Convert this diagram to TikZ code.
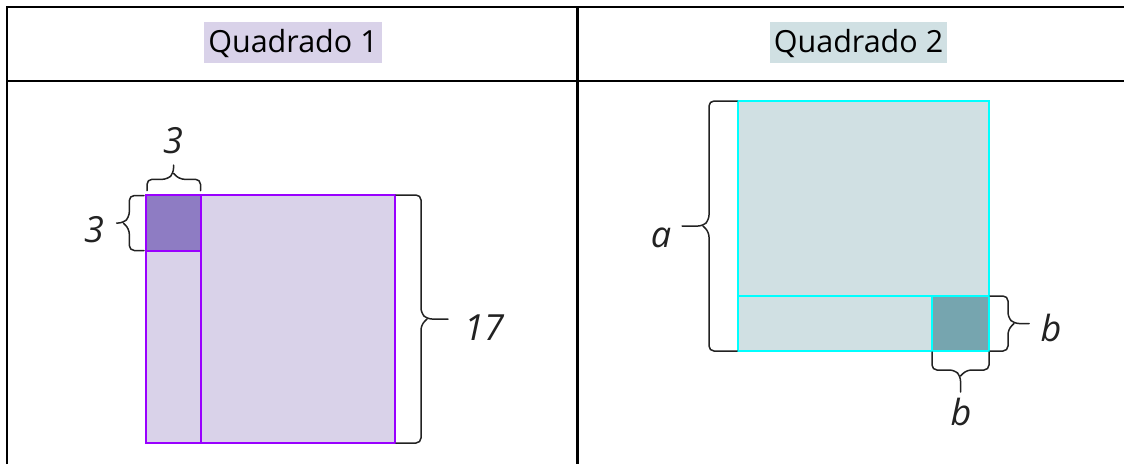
\documentclass[tikz,border=0pt]{standalone}
\usepackage{fontspec}
\setmainfont{Open Sans}
\definecolor{lpurple}{HTML}{D9D2E9}
\definecolor{dpurple}{HTML}{8E7CC3}
\definecolor{opurple}{HTML}{9900FF}
\definecolor{lcyan}{HTML}{D0E0E3}
\definecolor{dcyan}{HTML}{76A5AF}
\definecolor{ocyan}{HTML}{00FFFF}
\definecolor{ink}{HTML}{222222}
\begin{document}
\begin{tikzpicture}[x=1pt,y=-1pt,
  tabline/.style={line width=2.5pt,black},
  brc/.style={line width=1.5pt,ink,rounded corners=5pt,line cap=round},
  head/.style={inner xsep=4pt,inner ysep=0pt,text height=30pt,text depth=10.4pt,anchor=base,font=\fontsize{30.5}{36}\selectfont},
  lab/.style={inner sep=0pt,anchor=base,text=ink,font=\fontsize{36}{40}\selectfont\itshape},
  pq/.style={draw=opurple,line width=1.5pt},
  cq/.style={draw=ocyan,line width=1.5pt}]
\useasboundingbox (0,0) rectangle (1124,464);
% table
\draw[tabline] (7,464) -- (7,7) -- (1124,7);
\draw[tabline] (7,81) -- (1124,81);
\draw[tabline] (577.5,7) -- (577.5,464);
% headers
\node[head,fill=lpurple] (h1) at (293,52.3) {Quadrado 1};
\node[head,fill=lcyan] (h2) at (858.5,52.3) {Quadrado 2};
% Quadrado 1
\fill[lpurple] (146,195) rectangle (395,443);
\fill[dpurple] (146,195) rectangle (201,251);
\draw[pq] (146,195) rectangle (395,443);
\draw[pq] (201,195) -- (201,443);
\draw[pq] (146,251) -- (201,251);
% top brace 3
\draw[brc] (147,190.5) -- (147,179.3) -- (167.5,179.3) -- (173.5,173.3) -- (173.5,165);
\draw[brc] (200.5,190.5) -- (200.5,179.3) -- (179.5,179.3) -- (173.5,173.3);
\node[lab] (l3a) at (173,153) {3};
% left brace 3
\draw[brc] (144,195.5) -- (129.3,195.5) -- (129.3,217) -- (123.3,223) -- (116.7,223);
\draw[brc] (144,250.5) -- (129.3,250.5) -- (129.3,229) -- (123.3,223);
\node[lab] (l3b) at (94,242) {3};
% right brace 17
\draw[brc] (396,195) -- (421,195) -- (421,313) -- (427,319) -- (448,319);
\draw[brc] (396,443) -- (421,443) -- (421,325) -- (427,319);
\node[lab] (l17) at (484,340) {17};
% Quadrado 2
\fill[lcyan] (738,101) rectangle (989,351);
\fill[dcyan] (932,296) rectangle (989,351);
\draw[cq] (738,101) rectangle (989,351);
\draw[cq] (738,296) -- (989,296);
\draw[cq] (932,296) -- (932,351);
% left brace a
\draw[brc] (737,101) -- (709,101) -- (709,220) -- (703,226) -- (682,226);
\draw[brc] (737,351) -- (709,351) -- (709,232) -- (703,226);
\node[lab] (la) at (661,247) {a};
% right brace b
\draw[brc] (990,296) -- (1008,296) -- (1008,317.5) -- (1014,323.5) -- (1029,323.5);
\draw[brc] (990,351) -- (1008,351) -- (1008,329.5) -- (1014,323.5);
\node[lab] (lb1) at (1051,341) {b};
% bottom brace b
\draw[brc] (932,352) -- (932,370) -- (954.5,370) -- (960.5,376) -- (960.5,392);
\draw[brc] (989,352) -- (989,370) -- (966.5,370) -- (960.5,376);
\node[lab] (lb2) at (961,425) {b};
\end{tikzpicture}
\end{document}
